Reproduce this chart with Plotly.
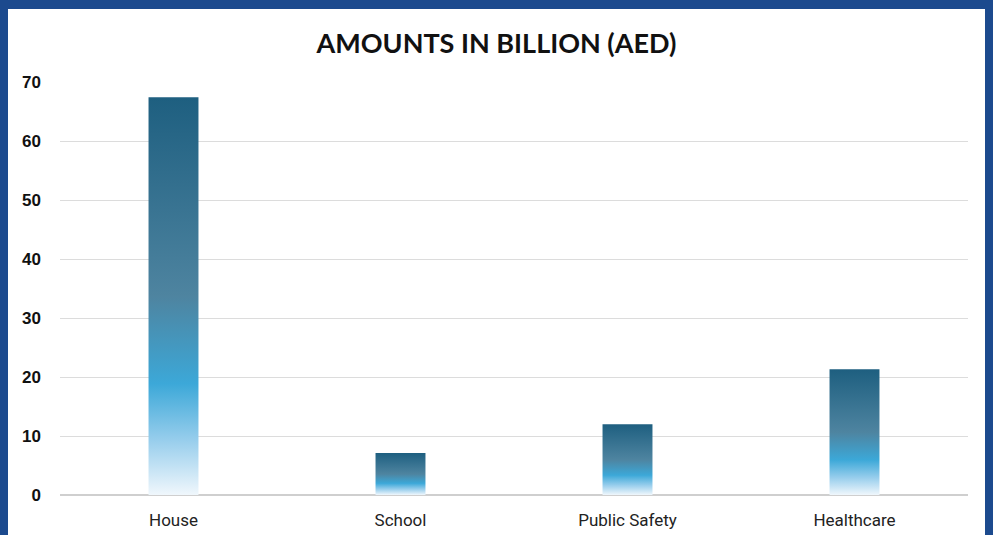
import plotly.graph_objects as go

# Budget allocation per sector, in billion AED
categories = ["House", "School", "Public Safety", "Healthcare"]
amounts = [67.4, 7.1, 12.0, 21.3]
y_ticks = [0, 10, 20, 30, 40, 50, 60, 70]

W, H = 993, 535
M_L, M_R, M_T, M_B = 60, 25, 82, 40
BAR_W = 0.22
FRAME = "#1c4a8e"

# Vertical gradient: white at the base, bright sky blue, slate blue, dark teal top
bar_scale = [
    [0.0, "rgb(240,247,252)"],
    [0.14, "rgb(150,205,236)"],
    [0.28, "rgb(60,168,216)"],
    [0.5, "rgb(78,132,160)"],
    [1.0, "rgb(30,95,128)"],
]

fig = go.Figure()
for i, (cat, val) in enumerate(zip(categories, amounts)):
    x0, x1 = i - BAR_W / 2, i + BAR_W / 2
    fig.add_trace(go.Scatter(
        x=[x0, x1, x1, x0, x0],
        y=[0, 0, val, val, 0],
        mode="lines",
        line=dict(width=0),
        fill="toself",
        fillgradient=dict(type="vertical", colorscale=bar_scale, start=0, stop=val),
        name=cat,
        hoverinfo="text",
        text=f"{cat}: {val}",
        showlegend=False,
    ))

# White card inside the blue frame
pw = W - M_L - M_R
ph = H - M_T - M_B
def px_x(p):
    return (p - M_L) / pw
def px_y(p):
    return (H - M_B - p) / ph

fig.add_shape(
    type="rect", xref="paper", yref="paper", layer="below",
    x0=px_x(8), x1=px_x(985), y0=px_y(H + 5), y1=px_y(9),
    fillcolor="white", line=dict(width=0),
)

fig.update_layout(
    width=W, height=H,
    margin=dict(l=M_L, r=M_R, t=M_T, b=M_B, autoexpand=False),
    paper_bgcolor=FRAME,
    plot_bgcolor="rgba(0,0,0,0)",
    title=dict(
        text="<b>AMOUNTS IN BILLION (AED)</b>",
        x=0.5, xref="container", xanchor="center",
        y=1 - 44 / H, yanchor="middle",
        font=dict(family="Lato", size=27, color="#111111"),
    ),
    xaxis=dict(
        range=[-0.5, len(categories) - 0.5],
        tickvals=list(range(len(categories))),
        ticktext=categories,
        showgrid=False, zeroline=False, showline=False,
        ticks="", ticklabelstandoff=13, automargin=False,
        tickfont=dict(family="Roboto", size=17, color="#222222"),
    ),
    yaxis=dict(
        range=[0, 70],
        tickvals=y_ticks,
        ticktext=[f"<b>{t}</b>" for t in y_ticks],
        showgrid=True, gridcolor="#dcdcdc", gridwidth=1,
        zeroline=True, zerolinecolor="#cfcfcf", zerolinewidth=1.5,
        showline=False, ticks="", ticklabelstandoff=18, automargin=False,
        tickfont=dict(family="Liberation Sans", size=17, color="#111111"),
    ),
)

fig.write_html("out.html")
